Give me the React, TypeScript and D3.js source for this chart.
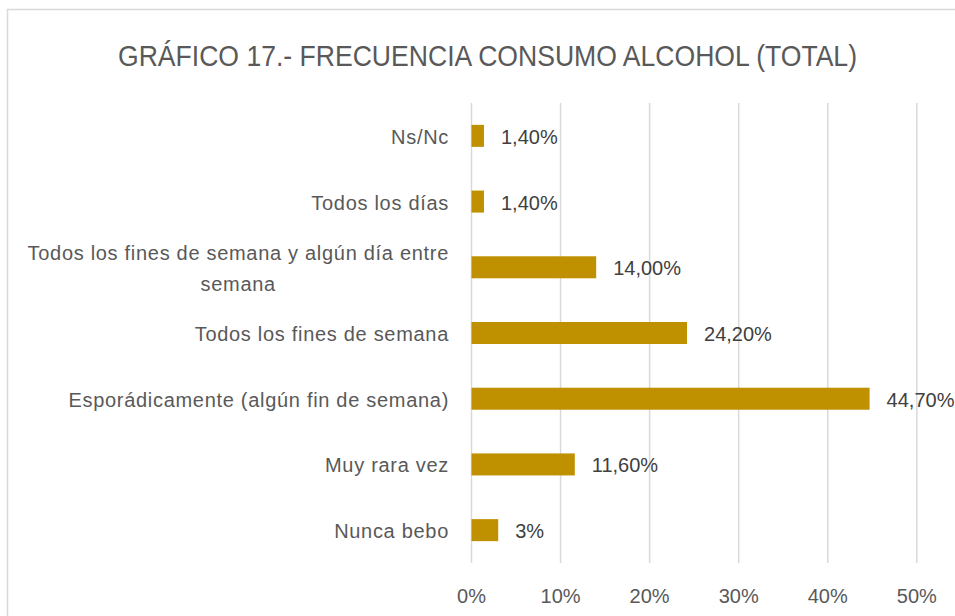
import { useRef, useEffect } from "react";
import * as d3 from "d3";

const categories = [
  "Ns/Nc",
  "Todos los días",
  "Todos los fines de semana y algún día entre semana",
  "Todos los fines de semana",
  "Esporádicamente (algún fin de semana)",
  "Muy rara vez",
  "Nunca bebo",
];
const values = [1.4, 1.4, 14.0, 24.2, 44.7, 11.6, 3];
const valueLabels = ["1,40%", "1,40%", "14,00%", "24,20%", "44,70%", "11,60%", "3%"];
const xTicks = [0, 10, 20, 30, 40, 50];

export default function App() {
  const ref = useRef<SVGSVGElement>(null);

  useEffect(() => {
    document.body.style.margin = "0";
    const svg = d3.select(ref.current);
    svg.selectAll("*").remove();

    const width = 955;
    const height = 616;
    const font = "'Liberation Sans', Arial, sans-serif";
    const margin = { top: 103, left: 471.5, bottom: 53 };

    svg.attr("width", width).attr("height", height).style("display", "block");

    svg.append("rect")
      .attr("x", 7.5).attr("y", 9.5)
      .attr("width", 1000).attr("height", 700)
      .attr("fill", "#fff").attr("stroke", "#d9d9d9").attr("stroke-width", 1.5);

    svg.append("text")
      .attr("x", 118).attr("y", 66)
      .attr("font-family", font)
      .attr("font-size", 30)
      .attr("textLength", 739)
      .attr("lengthAdjust", "spacingAndGlyphs")
      .attr("fill", "#595959")
      .text("GRÁFICO 17.- FRECUENCIA CONSUMO ALCOHOL (TOTAL)");

    const x = d3.scaleLinear().domain([0, 50]).range([margin.left, 916.8]);
    const y = d3.scaleBand()
      .domain(categories)
      .range([margin.top, height - margin.bottom])
      .paddingInner(0.665)
      .paddingOuter(0.3325);

    svg.append("g")
      .selectAll("line")
      .data(xTicks)
      .enter()
      .append("line")
      .attr("x1", d => x(d)).attr("x2", d => x(d))
      .attr("y1", margin.top).attr("y2", height - margin.bottom)
      .attr("stroke", "#d9d9d9").attr("stroke-width", 1.5);

    svg.append("g")
      .selectAll("text")
      .data(xTicks)
      .enter()
      .append("text")
      .attr("x", d => x(d))
      .attr("y", 603)
      .attr("text-anchor", "middle")
      .attr("font-family", font)
      .attr("font-size", 20)
      .attr("fill", "#595959")
      .text(d => d + "%");

    svg.append("g")
      .selectAll("rect")
      .data(values)
      .enter()
      .append("rect")
      .attr("x", x(0))
      .attr("y", (_, i) => y(categories[i])!)
      .attr("width", d => x(d) - x(0))
      .attr("height", y.bandwidth())
      .attr("fill", "#bf9000");

    svg.append("g")
      .selectAll("text")
      .data(values)
      .enter()
      .append("text")
      .attr("x", d => x(d) + 17)
      .attr("y", (_, i) => y(categories[i])! + y.bandwidth() / 2 + 8)
      .attr("font-family", font)
      .attr("font-size", 20)
      .attr("fill", "#404040")
      .text((_, i) => valueLabels[i]);

    const labelRight = 449;
    const catText = (sel: any) => sel
      .attr("font-family", font).attr("font-size", 20)
      .attr("letter-spacing", 0.7)
      .attr("fill", "#595959");

    categories.forEach((c, i) => {
      const cy = y(c)! + y.bandwidth() / 2;
      if (c.length > 40) {
        const lines = ["Todos los fines de semana y algún día entre", "semana"];
        const first = svg.append("text")
          .attr("x", labelRight).attr("y", cy - 7)
          .attr("text-anchor", "end")
          .call(catText)
          .text(lines[0]);
        const w = (first.node() as SVGTextElement).getComputedTextLength();
        svg.append("text")
          .attr("x", labelRight - w / 2).attr("y", cy + 24)
          .attr("text-anchor", "middle")
          .call(catText)
          .text(lines[1]);
      } else {
        svg.append("text")
          .attr("x", labelRight).attr("y", cy + 8)
          .attr("text-anchor", "end")
          .call(catText)
          .text(c);
      }
    });
  }, []);

  return <svg ref={ref}></svg>;
}
